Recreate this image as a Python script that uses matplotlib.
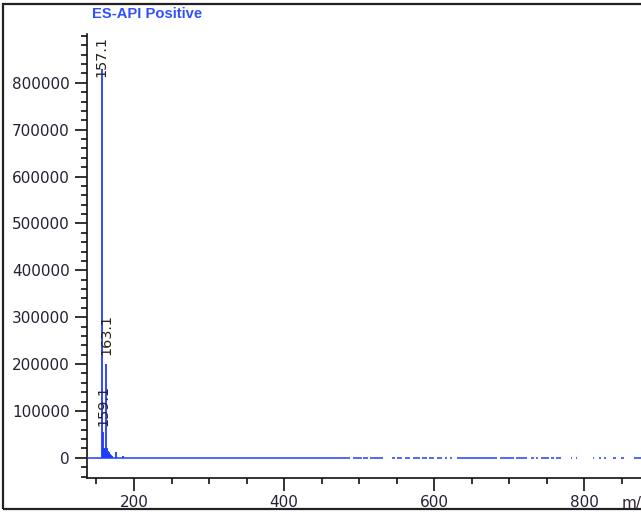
import matplotlib
matplotlib.use("Agg")
import matplotlib.pyplot as plt
from matplotlib.ticker import MultipleLocator, FixedLocator
from matplotlib.patches import Rectangle

# ---- data ----
peak_mz = [157.1, 158.1, 159.1, 160.1, 161.1, 162.1, 163.1, 164.1, 165.1, 166.1,
           167.1, 168.1, 169.1, 170.1, 176.3, 185.3]
peak_int = [830000, 20000, 55000, 22000, 20000, 18000, 201000, 20000, 15000, 12000,
            10000, 8000, 6000, 4000, 13000, 4000]
label_mz = [157.1, 159.1, 163.1]
label_text = ["157.1", "159.1", "163.1"]
label_int = [830000, 55000, 201000]

# baseline segments (m/z start, m/z end) where the trace is drawn at zero
baseline_segments = [
    (138.5, 487.6), (492.0, 503.2), (505.4, 512.1), (514.3, 532.2),
    (543.3, 547.8), (550.0, 556.7), (561.2, 567.9), (572.3, 581.2),
    (583.5, 590.1), (592.4, 599.1), (603.5, 610.2), (614.7, 616.9),
    (621.4, 623.6), (630.3, 683.8), (688.2, 706.1), (708.3, 723.9),
    (728.4, 732.8), (735.1, 738.2), (741.7, 752.9), (755.1, 759.6),
    (761.8, 768.5), (781.9, 784.1), (788.6, 790.8), (810.9, 813.1),
    (819.8, 822.0), (826.5, 828.7), (837.6, 842.1), (848.8, 853.2),
    (866.6, 876.9),
]

x_major = [200, 400, 600, 800]
y_major = [0, 100000, 200000, 300000, 400000, 500000, 600000, 700000, 800000]

title = "ES-API Positive"
xlabel = "m/z"

W, H = 641, 512
fig = plt.figure(figsize=(W / 100, H / 100), dpi=100)

ax_l, ax_r, ax_b, ax_t = 87, 641, 478, 33.6
ax = fig.add_axes([ax_l / W, 1 - ax_b / H, (ax_r - ax_l) / W, (ax_b - ax_t) / H])
ax.set_xlim(137.4, 875.4)
ax.set_ylim(-43000, 905000)

blue = "#1f3cff"
ax.vlines(peak_mz, 0, peak_int, color=blue, lw=1.3)
for s, e in baseline_segments:
    ax.plot([s, e], [0, 0], color=blue, lw=1.1, solid_capstyle="butt")

fs = 11.0
label_offsets = [-6, 4.5, 6]  # vertical offsets (points) of the peak labels
for m, t, v, dy in zip(label_mz, label_text, label_int, label_offsets):
    ax.annotate(t, (m, v), xytext=(0, dy), textcoords="offset points",
                rotation=90, ha="center", va="bottom", fontsize=10.4,
                color="#2a2418", family="DejaVu Sans")

for sp in ["top", "right"]:
    ax.spines[sp].set_visible(False)
for sp in ["left", "bottom"]:
    ax.spines[sp].set_linewidth(1.2)
    ax.spines[sp].set_color("#111111")

ax.xaxis.set_major_locator(FixedLocator(x_major))
ax.xaxis.set_minor_locator(MultipleLocator(50))
ax.yaxis.set_major_locator(FixedLocator(y_major))
ax.yaxis.set_minor_locator(MultipleLocator(20000))
ax.set_xticklabels([str(v) for v in x_major])
ax.set_yticklabels([str(v) for v in y_major])
ax.tick_params(which="major", length=9, width=1.2, color="#111111",
               labelsize=fs, labelcolor="#222233", pad=3.5)
ax.tick_params(which="minor", length=4, width=1.2, color="#111111")

ax.text(850, -0.04, xlabel, transform=ax.get_xaxis_transform(),
        ha="left", va="top", fontsize=fs, color="#332233", clip_on=False)

fig.text(92 / W, 1 - 14 / H, title, ha="left", va="center", fontsize=10.6,
         color="#3050ff", weight="bold", family="Liberation Sans")

fig.patches.append(Rectangle((3 / W, 1 - 508.5 / H), 700 / W, (508.5 - 4) / H,
                             transform=fig.transFigure, fill=False,
                             edgecolor="#222222", lw=1.6))

fig.savefig("out.png", dpi=100)
